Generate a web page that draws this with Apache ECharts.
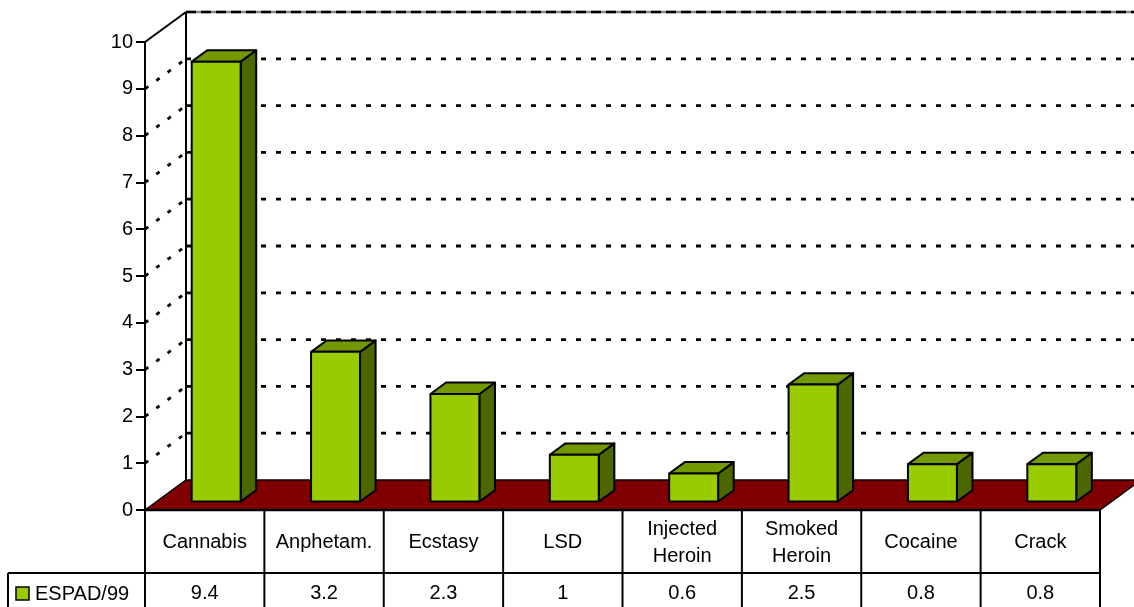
<!DOCTYPE html>
<html><head><meta charset="utf-8">
<script src="https://cdn.jsdelivr.net/npm/echarts@6/dist/echarts.min.js"></script>
<style>html,body{margin:0;padding:0;background:#fff}#c{width:1134px;height:607px}</style>
</head><body><div id="c"></div>
<script>
// ---- data ----
const categories = ['Cannabis', 'Anphetam.', 'Ecstasy', 'LSD', 'Injected\nHeroin', 'Smoked\nHeroin', 'Cocaine', 'Crack'];
const seriesName = 'ESPAD/99';
const values = [9.4, 3.2, 2.3, 1, 0.6, 2.5, 0.8, 0.8];
const valueLabels = ['9.4', '3.2', '2.3', '1', '0.6', '2.5', '0.8', '0.8'];
const gridValues = [1, 2, 3, 4, 5, 6, 7, 8, 9, 10];

// ---- style ----
const FONT = '"Liberation Sans", Arial, sans-serif';
const FS = 20;
const DEPTH = [41, -30];
const C_FRONT = '#99CC00', C_TOP = '#729900', C_SIDE = '#4C6600', C_FLOOR = '#800000';

function renderGrid(params, api) {
  const v = api.value(1);
  const cs = params.coordSys;
  const y = api.coord([0, v])[1];
  const x0 = cs.x, x1 = cs.x + cs.width;
  const top = v === gridValues[gridValues.length - 1];
  const children = [];
  children.push({
    type: 'line',
    shape: { x1: x0, y1: y, x2: x0 + DEPTH[0], y2: y + DEPTH[1] },
    style: { stroke: '#000', lineWidth: top ? 2 : 2.8, lineDash: top ? null : [4, 10] }
  });
  if (top) {
    children.push({ type: 'line', shape: { x1: x0 + DEPTH[0], y1: y + DEPTH[1], x2: x1 + DEPTH[0] + 10, y2: y + DEPTH[1] },
      style: { stroke: '#888', lineWidth: 2.5 } });
    children.push({ type: 'line', shape: { x1: x0 + DEPTH[0], y1: y + DEPTH[1], x2: x1 + DEPTH[0] + 10, y2: y + DEPTH[1] },
      style: { stroke: '#000', lineWidth: 2.5, lineDash: [10, 5] } });
  } else {
    children.push({ type: 'line', shape: { x1: x0 + DEPTH[0], y1: y + DEPTH[1], x2: x1 + DEPTH[0] + 10, y2: y + DEPTH[1] },
      style: { stroke: '#000', lineWidth: 2.8, lineDash: [5, 10] } });
  }
  return { type: 'group', children };
}

function renderFrame(params, api) {
  const cs = params.coordSys;
  const x0 = cs.x, x1 = cs.x + cs.width;
  const y0 = api.coord([0, 0])[1];
  const yTop = api.coord([0, 10])[1];
  return { type: 'group', children: [
    { type: 'line', shape: { x1: x0 + DEPTH[0], y1: y0 + DEPTH[1], x2: x0 + DEPTH[0], y2: yTop + DEPTH[1] },
      style: { stroke: '#000', lineWidth: 2 } },
    { type: 'polygon', shape: { points: [[x0, y0], [x0 + DEPTH[0], y0 + DEPTH[1]], [x1 + DEPTH[0], y0 + DEPTH[1]], [x1, y0]] },
      style: { fill: C_FLOOR, stroke: '#000', lineWidth: 1.5 } },
    { type: 'line', shape: { x1: x0, y1: y0, x2: x1, y2: y0 }, style: { stroke: '#000', lineWidth: 2.5 } }
  ] };
}

function renderBar(params, api) {
  const i = api.value(0), v = api.value(1);
  const base = api.coord([i, 0]), top = api.coord([i, v]);
  const bw = api.size([1, 0])[0];
  const hw = bw * 0.205;
  const f1 = 0.28, f2 = 0.66;
  const dx1 = DEPTH[0] * f1, dy1 = DEPTH[1] * f1, dx2 = DEPTH[0] * f2, dy2 = DEPTH[1] * f2;
  const xl = base[0] - hw + dx1, xr = base[0] + hw + dx1;
  const yb = base[1] + dy1, yt = top[1] + dy1;
  const ddx = dx2 - dx1, ddy = dy2 - dy1;
  const st = (f) => ({ fill: f, stroke: '#000', lineWidth: 2, lineJoin: 'round' });
  return { type: 'group', children: [
    { type: 'polygon', shape: { points: [[xr, yb], [xr, yt], [xr + ddx, yt + ddy], [xr + ddx, yb + ddy]] }, style: st(C_SIDE) },
    { type: 'polygon', shape: { points: [[xl, yt], [xr, yt], [xr + ddx, yt + ddy], [xl + ddx, yt + ddy]] }, style: st(C_TOP) },
    { type: 'rect', shape: { x: xl, y: yt, width: xr - xl, height: yb - yt }, style: st(C_FRONT) }
  ] };
}

function renderTable(params, api) {
  const i = api.value(0);
  const cs = params.coordSys;
  const c = api.coord([i, 0]);
  const bw = api.size([1, 0])[0];
  const xl = c[0] - bw / 2, xr = c[0] + bw / 2;
  const y0 = c[1];
  const rowH = 63;
  const bottom = api.getHeight() + 5;
  const ln = { stroke: '#000', lineWidth: 2 };
  const children = [
    { type: 'line', shape: { x1: xl, y1: y0, x2: xl, y2: bottom }, style: ln },
    { type: 'text', style: { text: categories[i], x: c[0], y: y0 + rowH / 2 + 1, align: 'center', verticalAlign: 'middle',
      fontFamily: FONT, fontSize: FS, lineHeight: 27, fill: '#000' } },
    { type: 'text', style: { text: valueLabels[i], x: c[0], y: y0 + rowH + 20, align: 'center', verticalAlign: 'middle',
      fontFamily: FONT, fontSize: FS, fill: '#000' } }
  ];
  if (i === categories.length - 1) {
    children.push({ type: 'line', shape: { x1: xr, y1: y0, x2: xr, y2: bottom }, style: ln });
  }
  if (i === 0) {
    children.push({ type: 'line', shape: { x1: 8, y1: y0 + rowH, x2: cs.x + cs.width, y2: y0 + rowH }, style: ln });
    children.push({ type: 'line', shape: { x1: 8, y1: y0 + rowH, x2: 8, y2: bottom }, style: ln });
    children.push({ type: 'rect', shape: { x: 16, y: y0 + rowH + 14, width: 13, height: 13 },
      style: { fill: C_FRONT, stroke: '#000', lineWidth: 1.5 } });
    children.push({ type: 'text', style: { text: seriesName, x: 35, y: y0 + rowH + 21, align: 'left', verticalAlign: 'middle',
      fontFamily: FONT, fontSize: FS, fill: '#000' } });
  }
  return { type: 'group', children };
}

const chart = echarts.init(document.getElementById('c'), null, { renderer: 'canvas' });
chart.setOption({
  animation: false,
  backgroundColor: '#fff',
  grid: { left: 145, right: 34, top: 42, bottom: 97 },
  xAxis: {
    type: 'category', data: categories, boundaryGap: true,
    axisLine: { show: false }, axisTick: { show: false }, axisLabel: { show: false }, splitLine: { show: false }
  },
  yAxis: {
    type: 'value', min: 0, max: 10, interval: 1,
    axisLine: { show: true, lineStyle: { color: '#000', width: 2 } },
    axisTick: { show: true, length: 9, lineStyle: { color: '#000', width: 2 } },
    axisLabel: { color: '#000', fontFamily: FONT, fontSize: FS, margin: 12 },
    splitLine: { show: false }
  },
  series: [
    { type: 'custom', name: 'grid', renderItem: renderGrid, data: gridValues.map(v => [0, v]), z: 1, silent: true },
    { type: 'custom', name: 'frame', renderItem: renderFrame, data: [[0, 0]], z: 2, silent: true },
    { type: 'custom', name: seriesName, renderItem: renderBar, data: values.map((v, i) => [i, v]), z: 3 },
    { type: 'custom', name: 'table', renderItem: renderTable, data: values.map((v, i) => [i, v]), z: 4, silent: true }
  ]
});
</script>
</body></html>
